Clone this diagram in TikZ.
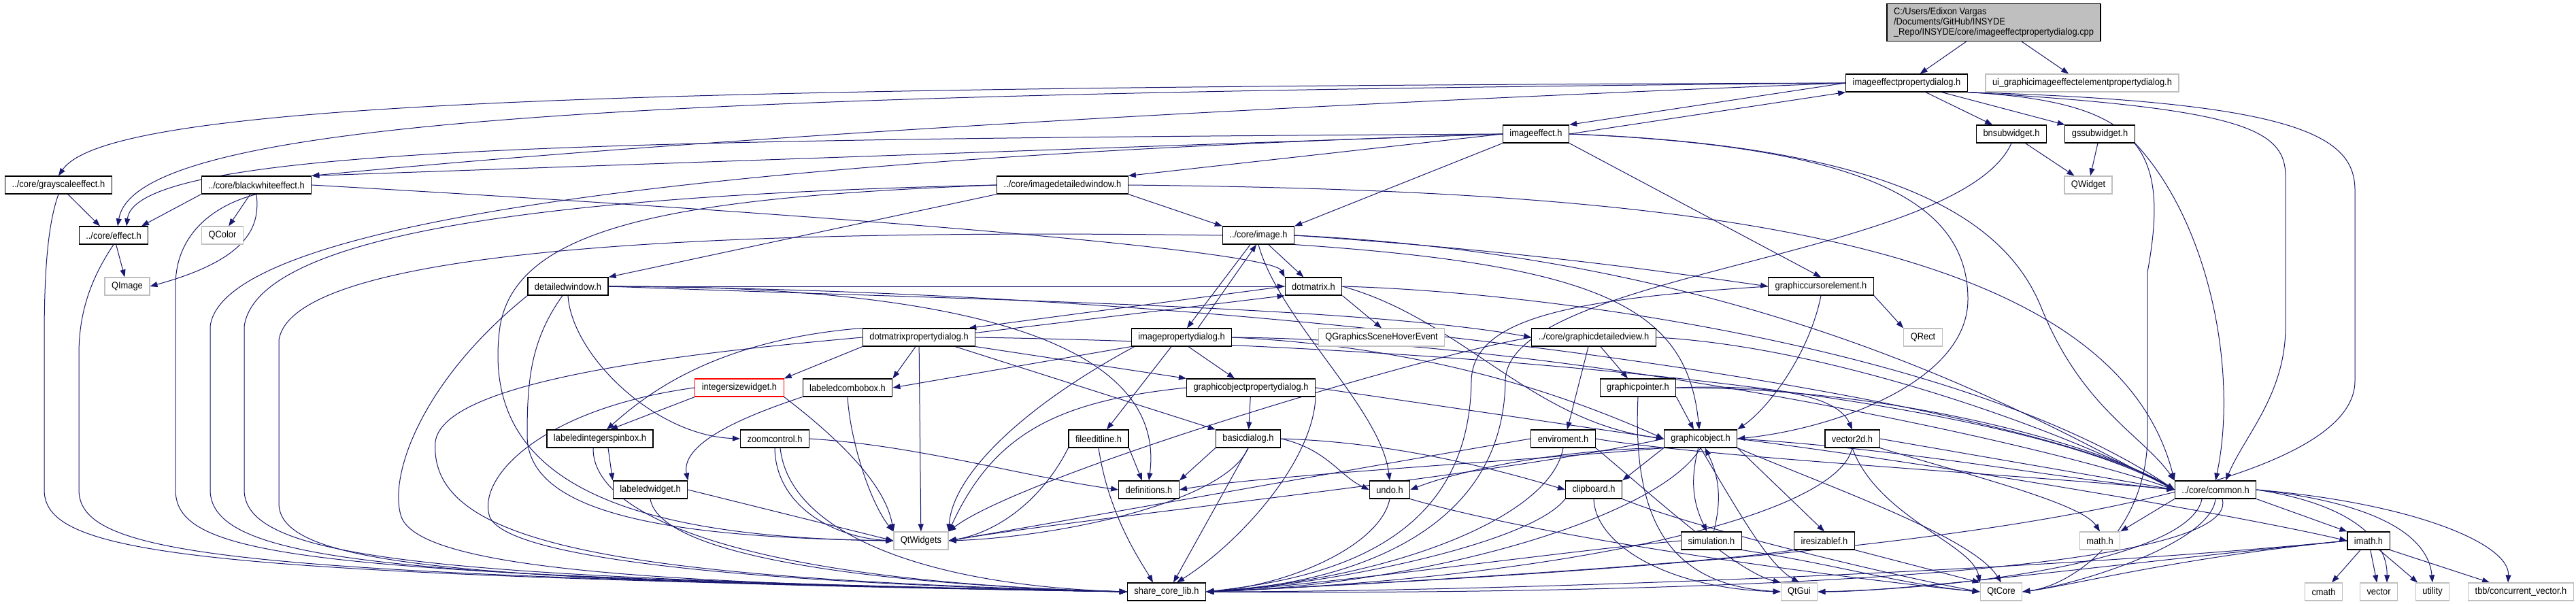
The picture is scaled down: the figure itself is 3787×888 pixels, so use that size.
\documentclass[tikz,border=0pt]{standalone}
\usepackage{fontspec}
\setmainfont{Liberation Sans}[FakeStretch=0.92]
\usetikzlibrary{arrows.meta, positioning, backgrounds}

\definecolor{depblue}{HTML}{191970}
\definecolor{extgray}{HTML}{BFBFBF}

\begin{document}
\begin{tikzpicture}[
        x = 1pt, y = -1pt,
        >= {Triangle[length = 11pt, width = 8pt]},
        hdr/.style = {font = \fontsize{14}{15}\selectfont, minimum height = 26pt, inner xsep = 10pt, inner ysep = 1pt, line width = 1.2pt, fill = white},
        file/.style = {hdr, draw = black},
        extfile/.style = {hdr, draw = extgray},
        warnfile/.style = {hdr, draw = red},
        dep/.style = {->, draw = depblue, line width = 1pt}
    ]
    \useasboundingbox (0,0) rectangle (3787,888);

    \node[file, fill = extgray, align = left, minimum height = 55pt, inner ysep = 3pt] (main) at (2931,33) {C:/Users/Edixon Vargas\\/Documents/GitHub/INSYDE\\\_Repo/INSYDE/core/imageeffectpropertydialog.cpp};

    \node[file] (iepd) at (2803,122) {imageeffectpropertydialog.h};
    \node[extfile] (uigi) at (3061,122) {ui\_graphicimageeffectelementpropertydialog.h};
    \node[file] (ie) at (2258,197) {imageeffect.h};
    \node[file] (bns) at (2957,197) {bnsubwidget.h};
    \node[file] (gss) at (3087,197) {gssubwidget.h};
    \node[file] (gse) at (86,272) {../core/grayscaleeffect.h};
    \node[file] (bwe) at (377,272) {../core/blackwhiteeffect.h};
    \node[file] (idw) at (1562,272) {../core/imagedetailedwindow.h};
    \node[extfile] (qwidget) at (3070,272) {QWidget};
    \node[file] (eff) at (167,346) {../core/effect.h};
    \node[extfile] (qcolor) at (327,346) {QColor};
    \node[file] (img) at (1850,346) {../core/image.h};
    \node[extfile] (qimage) at (187,421) {QImage};
    \node[file] (dw) at (835,421) {detailedwindow.h};
    \node[file] (dm) at (1931,421) {dotmatrix.h};
    \node[file] (gce) at (2677,421) {graphiccursorelement.h};
    \node[file] (dmpd) at (1351,496) {dotmatrixpropertydialog.h};
    \node[file] (ipd) at (1737,496) {imagepropertydialog.h};
    \node[extfile] (qgshe) at (2031,496) {QGraphicsSceneHoverEvent};
    \node[file] (gdv) at (2343,496) {../core/graphicdetailedview.h};
    \node[extfile] (qrect) at (2827,496) {QRect};
    \node[warnfile] (isw) at (1087,570) {integersizewidget.h};
    \node[file] (lcb) at (1246,570) {labeledcombobox.h};
    \node[file] (gopd) at (1839,570) {graphicobjectpropertydialog.h};
    \node[file] (gp) at (2408,570) {graphicpointer.h};
    \node[file] (lisb) at (882,645) {labeledintegerspinbox.h};
    \node[file] (zc) at (1139,645) {zoomcontrol.h};
    \node[file] (fel) at (1615,645) {fileeditline.h};
    \node[file] (bd) at (1835,645) {basicdialog.h};
    \node[file] (env) at (2298,645) {enviroment.h};
    \node[file] (go) at (2500,645) {graphicobject.h};
    \node[file] (v2d) at (2723,645) {vector2d.h};
    \node[file] (lw) at (956,720) {labeledwidget.h};
    \node[file] (defs) at (1689,720) {definitions.h};
    \node[file] (undo) at (2043,720) {undo.h};
    \node[file] (clip) at (2343,720) {clipboard.h};
    \node[file] (common) at (3257,720) {../core/common.h};
    \node[extfile] (qtw) at (1354,795) {QtWidgets};
    \node[file] (sim) at (2516,795) {simulation.h};
    \node[file] (ires) at (2682,795) {iresizablef.h};
    \node[extfile] (mathh) at (3087,795) {math.h};
    \node[file] (imath) at (3482,795) {imath.h};
    \node[file] (scl) at (1715,870) {share\_core\_lib.h};
    \node[extfile] (qtgui) at (2645,870) {QtGui};
    \node[extfile] (qtcore) at (2942,870) {QtCore};
    \node[extfile] (cmath) at (3416,870) {cmath};
    \node[extfile] (vector) at (3497,870) {vector};
    \node[extfile] (utility) at (3576,870) {utility};
    \node[extfile] (tbb) at (3706,870) {tbb/concurrent\_vector.h};

    \begin{scope}[on background layer]
    % the .cpp
    \draw[dep] (main) -- (iepd);
    \draw[dep] (main) -- (uigi);

    % imageeffectpropertydialog.h
    \draw[dep] (iepd.west) -- (ie.north east);
    \draw[dep] (iepd) -- (bns);
    \draw[dep] (iepd) -- (gss);
    \draw[dep] (iepd.west) .. controls (900,128) and (160,150) .. (gse.north);
    \draw[dep] (iepd.west) .. controls (1000,138) and (200,170) .. ([xshift=6pt]eff.north);
    \draw[dep] (iepd.west) .. controls (1500,170) and (800,225) .. (bwe.north east);
    \draw[dep] (iepd.south east) .. controls (3300,160) and (3360,190) .. (3360,260) -- (3360,480) .. controls (3360,580) and (3300,640) .. ([xshift=15pt]common.north);
    \draw[dep] (iepd.south east) .. controls (3150,150) and (3190,220) .. (3157,400) -- (3157,640) .. controls (3157,780) and (3050,860) .. (qtcore.east);
    \draw[dep] (iepd.south east) .. controls (3380,150) and (3462,200) .. (3462,280) -- (3462,560) .. controls (3462,780) and (2400,840) .. (scl.east);

    % imageeffect.h
    \draw[dep] (ie.east) -- (iepd.south west);
    \draw[dep] (ie.west) .. controls (900,205) and (200,215) .. ([xshift=19pt]eff.north);
    \draw[dep] (ie.west) -- (bwe.north east);
    \draw[dep] (ie.west) -- (idw.north east);
    \draw[dep] (ie.south west) -- (img.north east);
    \draw[dep] (ie.south east) -- (gce.north);
    \draw[dep] (ie.east) .. controls (2750,215) and (2893,300) .. (2893,440) .. controls (2893,560) and (2700,630) .. (go.east);
    \draw[dep] (ie.east) .. controls (2800,215) and (2950,330) .. (3000,450) .. controls (3060,600) and (3150,640) .. (common.north west);
    \draw[dep] (ie.west) .. controls (1300,225) and (330,300) .. (309,480) -- (309,720) .. controls (309,830) and (600,850) .. (scl.west);

    % effects
    \draw[dep] (gse) -- ([xshift=-20pt]eff.north);
    \draw[dep] (gse.south) .. controls (70,330) and (65,400) .. (65,500) -- (65,720) .. controls (65,820) and (300,845) .. (scl.west);
    \draw[dep] (bwe.south west) -- ([xshift=41pt]eff.north);
    \draw[dep] (bwe) -- (qcolor);
    \draw[dep] (bwe.south) .. controls (382,330) and (370,380) .. (qimage.east);
    \draw[dep] (bwe.south) .. controls (320,300) and (258,340) .. (258,420) -- (258,720) .. controls (258,820) and (450,845) .. (scl.west);
    \draw[dep] (bwe.east) .. controls (1300,320) and (1870,370) .. (dm.north west);
    \draw[dep] (eff) -- (qimage);
    \draw[dep] (eff.south) .. controls (140,400) and (116,450) .. (116,520) -- (116,720) .. controls (116,820) and (350,845) .. (scl.west);

    % imagedetailedwindow.h
    \draw[dep] (idw.south east) -- (img.north west);
    \draw[dep] (idw.south west) -- (dw.north east);
    \draw[dep] (idw.west) .. controls (900,285) and (380,330) .. (359,480) -- (359,720) .. controls (359,825) and (650,850) .. (scl.west);
    \draw[dep] (idw.west) .. controls (1000,290) and (760,330) .. (735,480) .. controls (705,700) and (900,790) .. (qtw.west);
    \draw[dep] (idw.east) .. controls (2400,280) and (3100,330) .. (common.north west);

    % image.h
    \draw[dep] (img) -- (dm);
    \draw[dep] ([xshift=-12pt]img.south) -- ([xshift=8pt]ipd.north);
    \draw[dep] ([xshift=24pt]ipd.north) -- ([xshift=-3pt]img.south);
    \draw[dep] (img.east) .. controls (2250,370) and (2450,400) .. (gce.west);
    \draw[dep] (img.south east) .. controls (2350,390) and (2480,450) .. ([xshift=-2pt]go.north);
    \draw[dep] (img.south) .. controls (1880,470) and (2030,600) .. (undo.north);
    \draw[dep] (img.west) .. controls (1000,335) and (430,370) .. (410,500) -- (410,740) .. controls (410,835) and (700,855) .. (scl.west);
    \draw[dep] (img.east) .. controls (2600,380) and (3000,620) .. (common.west);

    % detailedwindow.h
    \draw[dep] (dw.south) .. controls (840,520) and (960,640) .. (zc.west);
    \draw[dep] ([xshift=-8pt]dw.south) .. controls (780,500) and (775,560) .. (775,640) .. controls (775,760) and (1000,790) .. (qtw.west);
    \draw[dep] (dw.south west) .. controls (620,560) and (570,700) .. (590,760) .. controls (620,840) and (1000,860) .. (scl.west);
    \draw[dep] (dw.east) -- (dm.west);
    \draw[dep] (dw.east) .. controls (1400,440) and (2000,450) .. (gdv.west);
    \draw[dep] (dw.east) .. controls (1300,420) and (1720,470) .. (defs.north);
    \draw[dep] (dw.east) .. controls (2000,430) and (3000,600) .. (common.west);

    % dotmatrix.h
    \draw[dep] (dm.west) -- ([xshift=-10pt]dmpd.north east);
    \draw[dep] ([yshift=-7pt]dmpd.north east) -- (dm.south west);
    \draw[dep] (dm.south east) -- (qgshe.north);
    \draw[dep] (dm.east) .. controls (2300,430) and (2900,520) .. (common.west);
    \draw[dep] (dm.east) .. controls (2150,470) and (2250,620) .. (go.west);

    % graphiccursorelement.h
    \draw[dep] (gce.south east) -- (qrect.north west);
    \draw[dep] (gce.south) .. controls (2660,520) and (2600,600) .. (go.north east);
    \draw[dep] (gce.west) .. controls (2300,440) and (2165,470) .. (2163,560) .. controls (2160,800) and (1950,850) .. (scl.east);

    % dotmatrixpropertydialog.h
    \draw[dep] (dmpd.south west) -- (isw.north east);
    \draw[dep] (dmpd.250) -- (lcb.north east);
    \draw[dep] (dmpd.south east) -- (gopd.north west);
    \draw[dep] ([xshift=-30pt]dmpd.south east) -- (bd.north west);
    \draw[dep] (dmpd) -- (qtw);
    \draw[dep] (dmpd.north west) .. controls (1050,500) and (950,580) .. ([xshift=10pt]lisb.north);
    \draw[dep] (dmpd.west) .. controls (1000,520) and (650,560) .. (640,650) .. controls (630,800) and (900,850) .. (scl.west);
    \draw[dep] (dmpd.east) .. controls (2000,505) and (2900,560) .. (common.west);

    % imagepropertydialog.h
    \draw[dep] (ipd.south west) -- (lcb.east);
    \draw[dep] ([xshift=5pt]ipd.south west) .. controls (1500,600) and (1400,700) .. (qtw.north east);
    \draw[dep] ([xshift=-15pt]ipd.south) -- ([xshift=12pt]fel.north);
    \draw[dep] ([xshift=10pt]ipd.south) -- ([xshift=-24pt]gopd.north);
    \draw[dep] (ipd.east) .. controls (2100,510) and (2300,580) .. (go.west);
    \draw[dep] (ipd.east) .. controls (2300,500) and (3000,650) .. (common.west);

    % graphicobjectpropertydialog.h
    \draw[dep] (gopd) -- (bd);
    \draw[dep] (gopd.west) .. controls (1550,590) and (1460,640) .. (qtw.north east);
    \draw[dep] (gopd.south east) .. controls (1930,680) and (1820,800) .. ([xshift=15pt]scl.north);
    \draw[dep] (gopd.east) -- (go.west);

    % basicdialog.h
    \draw[dep] (bd.south west) -- (defs.north east);
    \draw[dep] (bd.south) .. controls (1800,740) and (1550,790) .. (qtw.east);
    \draw[dep] (bd.south) -- ([xshift=10pt]scl.north);
    \draw[dep] (bd.east) .. controls (1950,660) and (1970,700) .. (undo.west);
    \draw[dep] (bd.east) .. controls (2050,650) and (2200,690) .. (clip.west);

    % fileeditline.h
    \draw[dep] (fel.south east) -- ([xshift=-10pt]defs.north);
    \draw[dep] (fel.south west) .. controls (1540,720) and (1480,780) .. (qtw.east);
    \draw[dep] (fel.south) .. controls (1630,760) and (1680,830) .. ([xshift=-20pt]scl.north);

    % widgets
    \draw[dep] (isw.south west) -- ([xshift=15pt]lisb.north);
    \draw[dep] (isw.south east) .. controls (1200,620) and (1300,700) .. (qtw.north west);
    \draw[dep] (isw.west) .. controls (800,600) and (700,700) .. (720,760) .. controls (750,830) and (1200,860) .. (scl.west);
    \draw[dep] (lcb.south west) .. controls (1100,610) and (1000,650) .. (lw.north east);
    \draw[dep] (lcb.south) .. controls (1250,650) and (1280,740) .. (qtw.north west);
    \draw[dep] ([xshift=12pt]lisb.south) -- (lw.north west);
    \draw[dep] ([xshift=-10pt]lisb.south) .. controls (870,760) and (1100,855) .. (scl.west);
    \draw[dep] (zc.east) .. controls (1350,655) and (1500,700) .. (defs.west);
    \draw[dep] (zc.south) .. controls (1140,740) and (1220,790) .. (qtw.west);
    \draw[dep] ([xshift=8pt]zc.south) .. controls (1160,780) and (1350,860) .. (scl.west);
    \draw[dep] (lw.east) -- (qtw.west);
    \draw[dep] (lw.south) .. controls (970,820) and (1300,860) .. (scl.west);

    % graphicdetailedview.h
    \draw[dep] ([xshift=10pt]gdv.south) -- ([xshift=-15pt]gp.north);
    \draw[dep] ([xshift=-8pt]gdv.south) -- ([xshift=6pt]env.north);
    \draw[dep] (gdv.west) .. controls (2100,520) and (1500,700) .. (qtw.north east);
    \draw[dep] (gdv.east) .. controls (2700,510) and (3050,640) .. (common.west);

    % graphicpointer.h
    \draw[dep] (gp.south east) -- ([xshift=-10pt]go.north);
    \draw[dep] (gp.east) .. controls (2600,565) and (2700,580) .. (v2d.north);
    \draw[dep] (gp.east) .. controls (2800,570) and (3100,660) .. (common.west);
    \draw[dep] (gp.south) .. controls (2400,760) and (2450,860) .. (qtgui.west);

    % enviroment.h
    \draw[dep] (env.west) .. controls (2100,670) and (1600,760) .. (qtw.east);
    \draw[dep] (env.south) .. controls (2280,760) and (2050,850) .. (scl.east);
    \draw[dep] (env.south east) .. controls (2420,720) and (2550,840) .. (qtgui.north west);
    \draw[dep] (env.east) .. controls (2500,672) and (3000,700) .. (common.west);

    % graphicobject.h
    \draw[dep] (go) to[bend right=20] (sim);
    \draw[dep] (sim) to[bend right=20] (go);
    \draw[dep] (go.south east) -- (ires.north);
    \draw[dep] (go.south west) -- (clip.north east);
    \draw[dep] (go.south west) .. controls (2300,660) and (2150,690) .. (undo.east);
    \draw[dep] (go.south west) .. controls (2200,680) and (1850,700) .. (defs.east);
    \draw[dep] (go.east) .. controls (2800,660) and (3000,700) .. (common.west);
    \draw[dep] (go.east) .. controls (2900,690) and (3300,760) .. (imath.west);
    \draw[dep] (go.west) .. controls (2200,700) and (1600,760) .. (qtw.east);
    \draw[dep] (go.south) .. controls (2440,760) and (2100,860) .. (scl.east);
    \draw[dep] (go.south east) .. controls (2700,720) and (2900,790) .. (qtcore.north);
    \draw[dep] (go.south) .. controls (2560,760) and (2600,830) .. (qtgui.north);

    % vector2d.h
    \draw[dep] (v2d.south east) .. controls (2900,700) and (3060,740) .. (mathh.north);
    \draw[dep] (v2d.east) -- (common.west);
    \draw[dep] (v2d.south) .. controls (2700,760) and (2300,850) .. (scl.east);
    \draw[dep] (v2d.south) .. controls (2760,760) and (2900,800) .. (qtcore.north west);

    % lower headers
    \draw[dep] (undo.south) .. controls (2030,800) and (1900,860) .. (scl.east);
    \draw[dep] (undo.south east) .. controls (2300,800) and (2800,860) .. (qtcore.west);
    \draw[dep] (clip.south west) .. controls (2250,800) and (1950,860) .. (scl.east);
    \draw[dep] (clip.south) .. controls (2345,800) and (2450,865) .. (qtgui.west);
    \draw[dep] (clip.south east) .. controls (2500,780) and (2800,850) .. (qtcore.west);
    \draw[dep] (sim.west) .. controls (2300,810) and (1950,860) .. (scl.east);
    \draw[dep] (sim.south east) .. controls (2700,830) and (2800,860) .. (qtcore.west);
    \draw[dep] (ires.south east) -- (qtcore.north west);
    \draw[dep] (ires.south west) .. controls (2500,830) and (2000,860) .. (scl.east);

    % imath.h
    \draw[dep] (imath) -- (cmath);
    \draw[dep] (imath) -- (vector);
    \draw[dep] (imath) -- ([xshift=-22pt]utility.north);
    \draw[dep] (imath.south east) -- ([xshift=-46pt]tbb.north);
    \draw[dep] (imath.west) .. controls (3200,820) and (3050,860) .. (qtcore.east);
    \draw[dep] (imath.west) .. controls (3100,830) and (2800,870) .. (qtgui.east);
    \draw[dep] (imath.west) .. controls (3000,840) and (2200,870) .. (scl.east);

    % common.h
    \draw[dep] (common.south east) -- (imath.north west);
    \draw[dep] (common.south west) -- (mathh.north east);
    \draw[dep] (common.east) .. controls (3450,740) and (3510,790) .. ([xshift=12pt]vector.north);
    \draw[dep] (common.east) .. controls (3500,740) and (3570,790) .. (utility.north);
    \draw[dep] (common.east) .. controls (3550,740) and (3690,800) .. ([xshift=-19pt]tbb.north);
    \draw[dep] (common.south) .. controls (3250,800) and (3050,860) .. (qtcore.east);
    \draw[dep] ([xshift=-20pt]common.south) .. controls (3220,820) and (2900,865) .. (qtgui.east);
    \draw[dep] ([xshift=10pt]common.south) .. controls (3300,850) and (2400,875) .. (scl.east);

    % subwidgets
    \draw[dep] (bns) -- (qwidget);
    \draw[dep] (gss) -- (qwidget);
    \draw[dep] (bns.south) .. controls (2880,380) and (2215,400) .. (2213,560) .. controls (2210,800) and (1950,860) .. (scl.east);
    \draw[dep] (gss.south east) .. controls (3250,330) and (3290,550) .. (common.north);
    \end{scope}

\end{tikzpicture}
\end{document}
